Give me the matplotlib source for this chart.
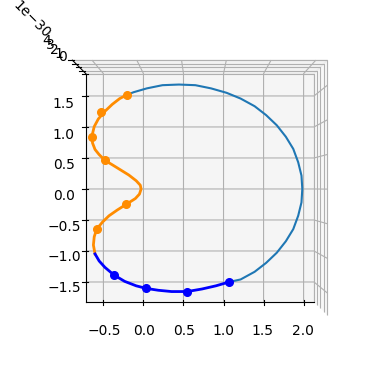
import numpy as np
import matplotlib
matplotlib.use("Agg")
import matplotlib.pyplot as plt

# outer arc
arc_x = [-0.18, -0.10, 0.06, 0.25, 0.45, 0.65, 0.84, 1.03, 1.20, 1.37, 1.51, 1.64, 1.75,
         1.84, 1.90, 1.94, 1.95, 1.94, 1.90, 1.84, 1.75, 1.64, 1.51, 1.37, 1.20, 1.06]
arc_y = [1.48, 1.52, 1.58, 1.63, 1.64, 1.63, 1.58, 1.51, 1.42, 1.30, 1.16, 1.00, 0.82,
         0.63, 0.42, 0.21, 0.00, -0.21, -0.42, -0.63, -0.82, -1.00, -1.16, -1.30, -1.42, -1.46]

# orange segment
orange_x = [-0.18, -0.27, -0.36, -0.45, -0.53, -0.58, -0.61, -0.60, -0.57, -0.52, -0.45,
            -0.36, -0.26, -0.16, -0.07, -0.02, -0.01, -0.03, -0.08, -0.19, -0.30, -0.40,
            -0.48, -0.55, -0.58, -0.59, -0.57]
orange_y = [1.48, 1.42, 1.33, 1.22, 1.10, 0.98, 0.82, 0.72, 0.62, 0.54, 0.45,
            0.38, 0.30, 0.22, 0.13, 0.06, 0.00, -0.08, -0.15, -0.24, -0.33, -0.42,
            -0.52, -0.63, -0.75, -0.88, -1.02]
orange_px = [-0.18, -0.50, -0.61, -0.45, -0.19, -0.55]
orange_py = [1.48, 1.205, 0.82, 0.45, -0.24, -0.63]

# blue segment
blue_x = [-0.57, -0.52, -0.45, -0.34, -0.21, -0.07, 0.05, 0.20, 0.36, 0.55, 0.73, 0.90, 1.06]
blue_y = [-1.02, -1.13, -1.23, -1.35, -1.45, -1.52, -1.56, -1.59, -1.61, -1.61, -1.57, -1.52, -1.46]
blue_px = [-0.34, 0.05, 0.55, 1.06]
blue_py = [-1.35, -1.56, -1.61, -1.46]

xticks = [-0.5, 0.0, 0.5, 1.0, 1.5, 2.0]
yticks = [-1.5, -1.0, -0.5, 0.0, 0.5, 1.0, 1.5]

z0 = 1e-30

fig = plt.figure(figsize=(3.89, 3.89), dpi=100)
ax = fig.add_subplot(projection="3d")
ax.set_position([0.116, 0.122, 0.775, 0.77])
ax.plot(arc_x, arc_y, np.full(len(arc_x), z0), color="C0", lw=1.5)
ax.plot(orange_x, orange_y, np.full(len(orange_x), z0), color="darkorange", lw=2)
ax.plot(orange_px, orange_py, np.full(len(orange_px), z0), "o", color="darkorange", ms=5.5)
ax.plot(blue_x, blue_y, np.full(len(blue_x), z0), color="blue", lw=2)
ax.plot(blue_px, blue_py, np.full(len(blue_px), z0), "o", color="blue", ms=5.5)
ax.set_xlim(-0.72, 2.13)
ax.set_ylim(-1.82, 1.86)
ax.set_zlim(0, 4e-30)
ax.set_xticks(xticks)
ax.set_yticks(yticks)
ax.set_box_aspect(None, zoom=1.25)
ax.view_init(elev=90, azim=-90)
fig.savefig("out.png", dpi=100)
